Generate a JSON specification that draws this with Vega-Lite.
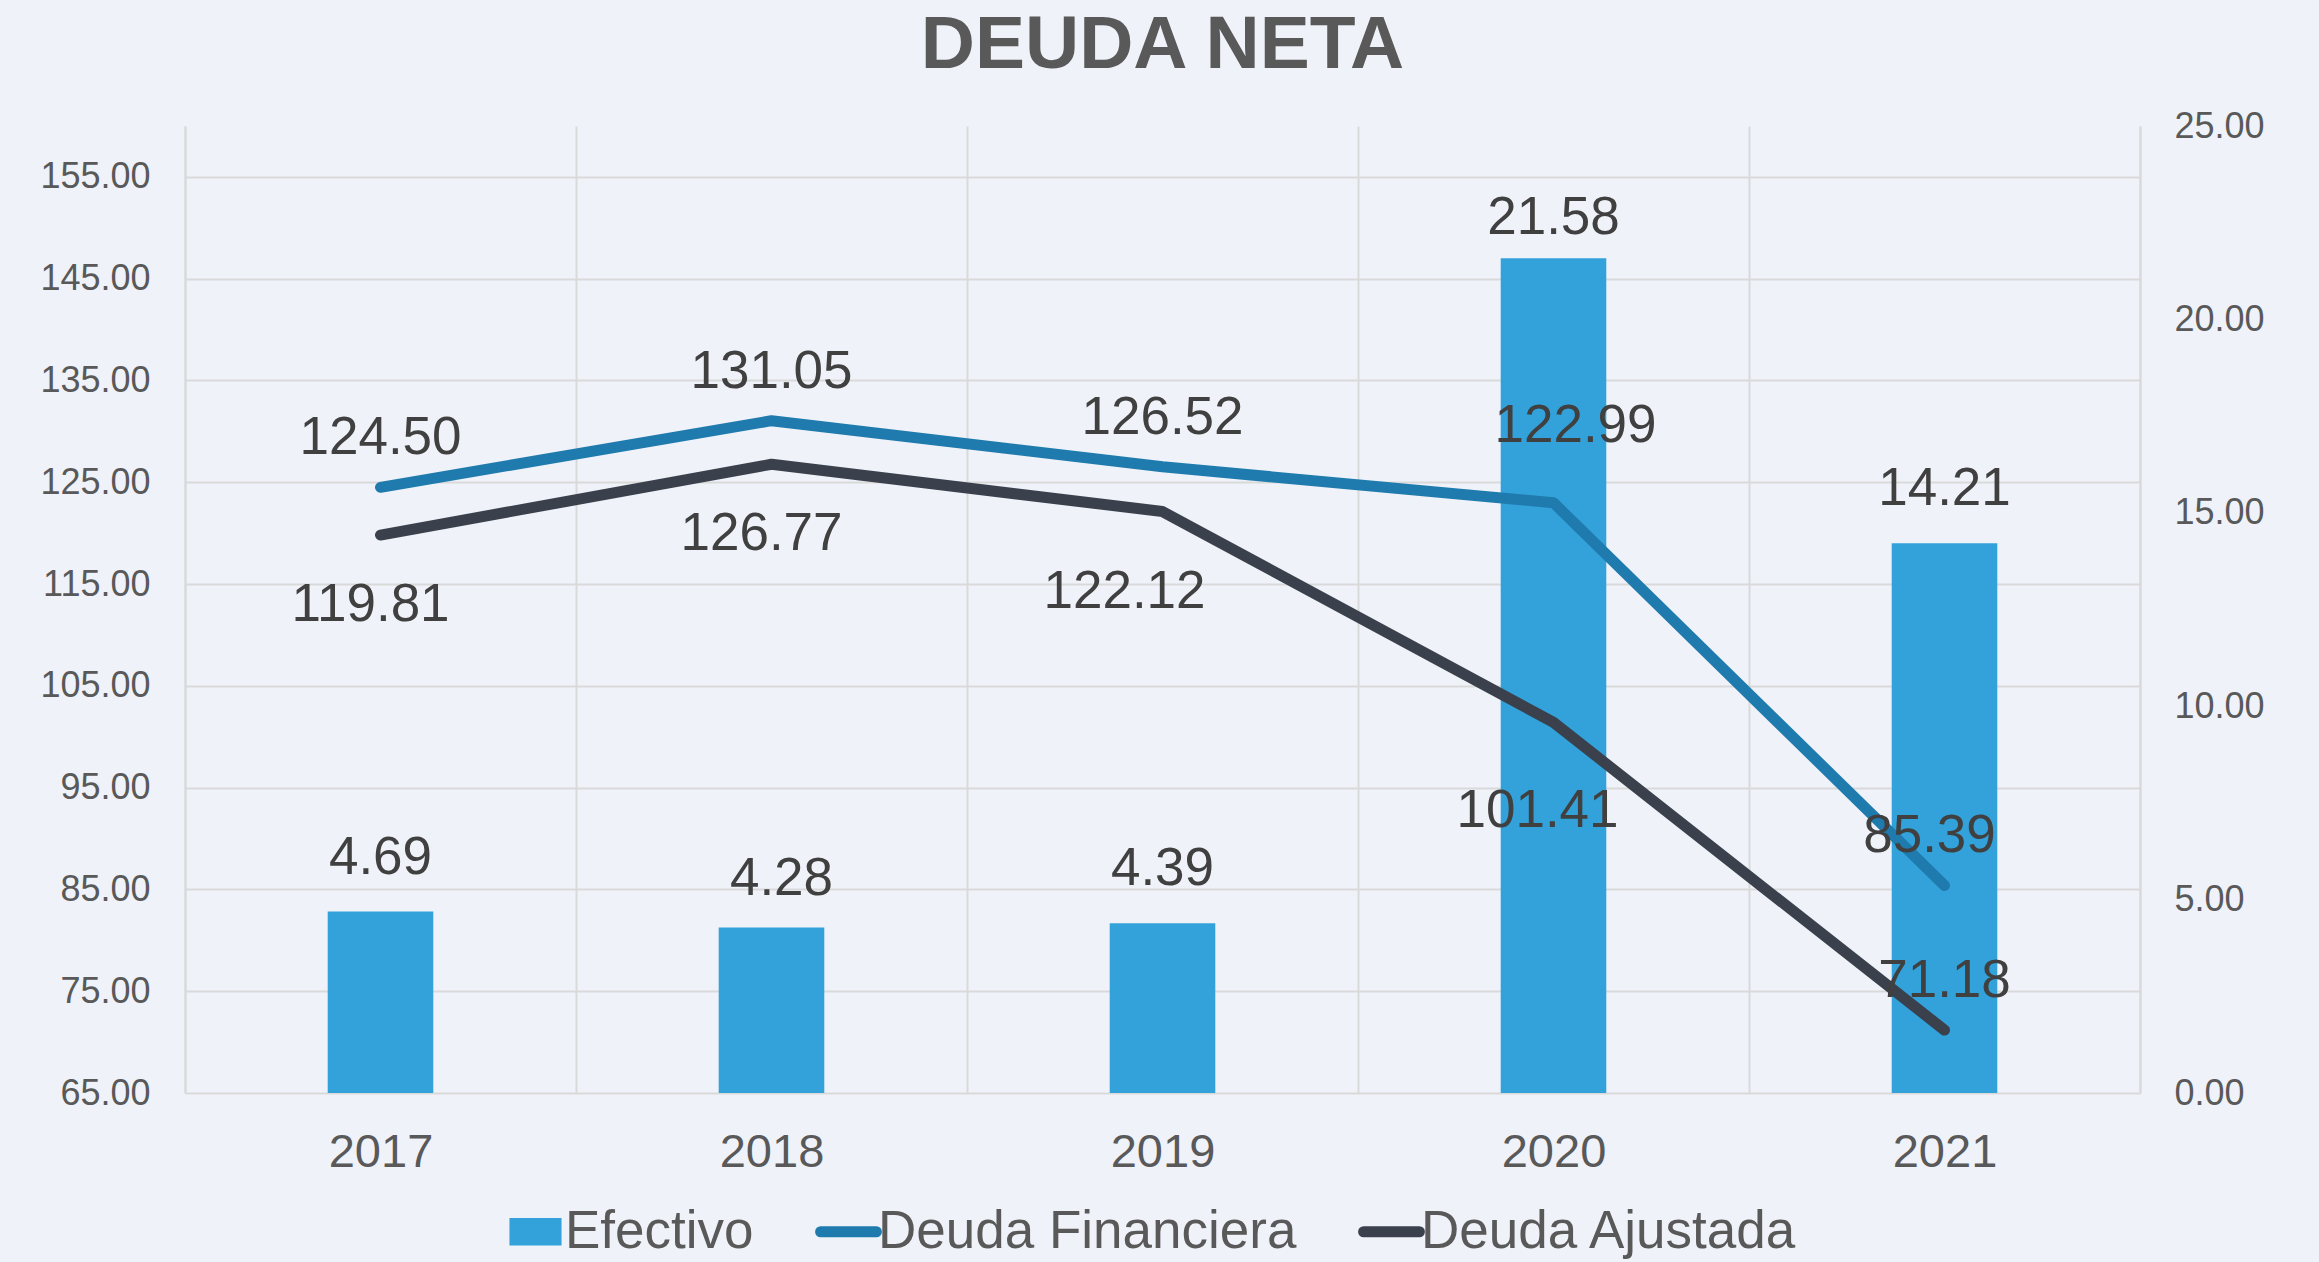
{
  "$schema": "https://vega.github.io/schema/vega-lite/v6.json",
  "autosize": "none",
  "width": 1955,
  "height": 967,
  "padding": {"left": 185, "top": 126, "right": 179, "bottom": 169},
  "background": "#eff2f9",
  "config": {"view": {"stroke": null}, "font": "Liberation Sans"},
  "title": {"text": "DEUDA NETA", "fontSize": 75, "fontWeight": "bold", "color": "#595959", "anchor": "middle", "frame": "group", "baseline": "bottom", "offset": -51, "font": "Liberation Sans"},
  "data": {"values": [
    {"year": "2017", "serie": "Efectivo", "value": 4.69},
    {"year": "2018", "serie": "Efectivo", "value": 4.28},
    {"year": "2019", "serie": "Efectivo", "value": 4.39},
    {"year": "2020", "serie": "Efectivo", "value": 21.58},
    {"year": "2021", "serie": "Efectivo", "value": 14.21},
    {"year": "2017", "serie": "Deuda Financiera", "value": 124.50},
    {"year": "2018", "serie": "Deuda Financiera", "value": 131.05},
    {"year": "2019", "serie": "Deuda Financiera", "value": 126.52},
    {"year": "2020", "serie": "Deuda Financiera", "value": 122.99},
    {"year": "2021", "serie": "Deuda Financiera", "value": 85.39},
    {"year": "2017", "serie": "Deuda Ajustada", "value": 119.81},
    {"year": "2018", "serie": "Deuda Ajustada", "value": 126.77},
    {"year": "2019", "serie": "Deuda Ajustada", "value": 122.12},
    {"year": "2020", "serie": "Deuda Ajustada", "value": 101.41},
    {"year": "2021", "serie": "Deuda Ajustada", "value": 71.18}
  ]},
  "encoding": {
    "x": {"field": "year", "type": "ordinal", "scale": {"paddingInner": 0, "paddingOuter": 0},
      "axis": {"title": null, "tickBand": "extent", "grid": true, "gridColor": "#d9d9d9", "gridWidth": 2, "ticks": false, "domain": false, "labelFontSize": 47, "labelColor": "#595959", "labelPadding": 36, "labelAngle": 0, "labelFont": "Liberation Sans"}}
  },
  "layer": [
    {
      "transform": [{"filter": "datum.serie === 'Efectivo'"}],
      "encoding": {
        "y": {"field": "value", "type": "quantitative", "scale": {"domain": [0, 25], "nice": false, "zero": true},
          "axis": {"orient": "right", "values": [0, 5, 10, 15, 20, 25], "format": ".2f", "title": null, "grid": false, "domain": true, "domainColor": "#d9d9d9", "domainWidth": 2, "ticks": false, "labelFontSize": 36, "labelColor": "#595959", "labelPadding": 34, "labelFont": "Liberation Sans"}}
      },
      "layer": [
        {
          "mark": {"type": "bar", "width": {"band": 0.27}},
          "encoding": {
            "color": {"field": "serie", "type": "nominal",
              "scale": {"domain": ["Efectivo", "Deuda Financiera", "Deuda Ajustada"], "range": ["#33a2da", "#1f7bad", "#3b414c"]},
              "legend": {"orient": "none", "legendX": 324, "legendY": 1079, "direction": "horizontal", "title": null,
                "labelFontSize": 53, "labelColor": "#595959", "labelFont": "Liberation Sans", "labelLimit": 1000, "symbolSize": 3844, "labelOffset": 3, "columnPadding": 44,
                "encode": {"symbols": {"update": {
                  "shape": {"signal": "datum.value === 'Efectivo' ? 'M-0.84,-0.44H0.84V0.44H-0.84Z' : 'M-0.9,0H0.9'"},
                  "fill": {"signal": "datum.value === 'Efectivo' ? '#33a2da' : 'transparent'"},
                  "stroke": {"signal": "datum.value === 'Deuda Financiera' ? '#1f7bad' : datum.value === 'Deuda Ajustada' ? '#3b414c' : 'transparent'"},
                  "strokeWidth": {"signal": "datum.value === 'Efectivo' ? 0 : 11"},
                  "strokeCap": {"value": "round"},
                  "opacity": {"value": 1}
                }}}}
            }
          }
        },
        {
          "transform": [{"filter": "datum.year === '2017' || datum.year === '2019' || datum.year === '2021'"}],
          "mark": {"type": "text", "fontSize": 53, "color": "#404040", "baseline": "middle", "dy": -54},
          "encoding": {"text": {"field": "value", "type": "quantitative", "format": ".2f"}}
        },
        {
          "transform": [{"filter": "datum.year === '2018'"}],
          "mark": {"type": "text", "fontSize": 53, "color": "#404040", "baseline": "middle", "dy": -48, "dx": 10},
          "encoding": {"text": {"field": "value", "type": "quantitative", "format": ".2f"}}
        },
        {
          "transform": [{"filter": "datum.year === '2020'"}],
          "mark": {"type": "text", "fontSize": 53, "color": "#404040", "baseline": "middle", "dy": -40},
          "encoding": {"text": {"field": "value", "type": "quantitative", "format": ".2f"}}
        }
      ]
    },
    {
      "transform": [{"filter": "datum.serie !== 'Efectivo'"}],
      "encoding": {
        "y": {"field": "value", "type": "quantitative", "scale": {"domain": [65, 160], "nice": false, "zero": false},
          "axis": {"orient": "left", "values": [65, 75, 85, 95, 105, 115, 125, 135, 145, 155], "format": ".2f", "title": null, "grid": true, "gridColor": "#d9d9d9", "gridWidth": 2, "domain": true, "domainColor": "#d9d9d9", "domainWidth": 2, "ticks": false, "labelFontSize": 36, "labelColor": "#595959", "labelPadding": 35, "labelFont": "Liberation Sans"}}
      },
      "layer": [
        {
          "mark": {"type": "line", "strokeWidth": 11, "strokeCap": "round", "strokeJoin": "round"},
          "encoding": {
            "color": {"field": "serie", "type": "nominal",
              "scale": {"domain": ["Efectivo", "Deuda Financiera", "Deuda Ajustada"], "range": ["#33a2da", "#1f7bad", "#3b414c"]},
              "legend": {"orient": "none", "legendX": 324, "legendY": 1079, "direction": "horizontal", "title": null,
                "labelFontSize": 53, "labelColor": "#595959", "labelFont": "Liberation Sans", "labelLimit": 1000, "symbolSize": 3844, "labelOffset": 3, "columnPadding": 44,
                "encode": {"symbols": {"update": {
                  "shape": {"signal": "datum.value === 'Efectivo' ? 'M-0.84,-0.44H0.84V0.44H-0.84Z' : 'M-0.9,0H0.9'"},
                  "fill": {"signal": "datum.value === 'Efectivo' ? '#33a2da' : 'transparent'"},
                  "stroke": {"signal": "datum.value === 'Deuda Financiera' ? '#1f7bad' : datum.value === 'Deuda Ajustada' ? '#3b414c' : 'transparent'"},
                  "strokeWidth": {"signal": "datum.value === 'Efectivo' ? 0 : 11"},
                  "strokeCap": {"value": "round"},
                  "opacity": {"value": 1}
                }}}}
            }
          }
        },
        {
          "transform": [{"filter": "datum.serie === 'Deuda Financiera' && (datum.year === '2017' || datum.year === '2018' || datum.year === '2019')"}],
          "mark": {"type": "text", "fontSize": 53, "color": "#404040", "baseline": "middle", "dy": -49},
          "encoding": {"text": {"field": "value", "type": "quantitative", "format": ".2f"}}
        },
        {
          "transform": [{"filter": "datum.serie === 'Deuda Financiera' && datum.year === '2020'"}],
          "mark": {"type": "text", "fontSize": 53, "color": "#404040", "baseline": "middle", "dy": -77, "dx": 22},
          "encoding": {"text": {"field": "value", "type": "quantitative", "format": ".2f"}}
        },
        {
          "transform": [{"filter": "datum.serie === 'Deuda Financiera' && datum.year === '2021'"}],
          "mark": {"type": "text", "fontSize": 53, "color": "#404040", "baseline": "middle", "dy": -49, "dx": -15},
          "encoding": {"text": {"field": "value", "type": "quantitative", "format": ".2f"}}
        },
        {
          "transform": [{"filter": "datum.serie === 'Deuda Ajustada' && (datum.year === '2017' || datum.year === '2018')"}],
          "mark": {"type": "text", "fontSize": 53, "color": "#404040", "baseline": "middle", "dy": 70, "dx": -10},
          "encoding": {"text": {"field": "value", "type": "quantitative", "format": ".2f"}}
        },
        {
          "transform": [{"filter": "datum.serie === 'Deuda Ajustada' && datum.year === '2019'"}],
          "mark": {"type": "text", "fontSize": 53, "color": "#404040", "baseline": "middle", "dy": 80, "dx": -38},
          "encoding": {"text": {"field": "value", "type": "quantitative", "format": ".2f"}}
        },
        {
          "transform": [{"filter": "datum.serie === 'Deuda Ajustada' && datum.year === '2020'"}],
          "mark": {"type": "text", "fontSize": 53, "color": "#404040", "baseline": "middle", "dy": 89, "dx": -16},
          "encoding": {"text": {"field": "value", "type": "quantitative", "format": ".2f"}}
        },
        {
          "transform": [{"filter": "datum.serie === 'Deuda Ajustada' && datum.year === '2021'"}],
          "mark": {"type": "text", "fontSize": 53, "color": "#404040", "baseline": "middle", "dy": -49},
          "encoding": {"text": {"field": "value", "type": "quantitative", "format": ".2f"}}
        }
      ]
    }
  ],
  "resolve": {"scale": {"y": "independent"}, "axis": {"y": "independent"}}
}
